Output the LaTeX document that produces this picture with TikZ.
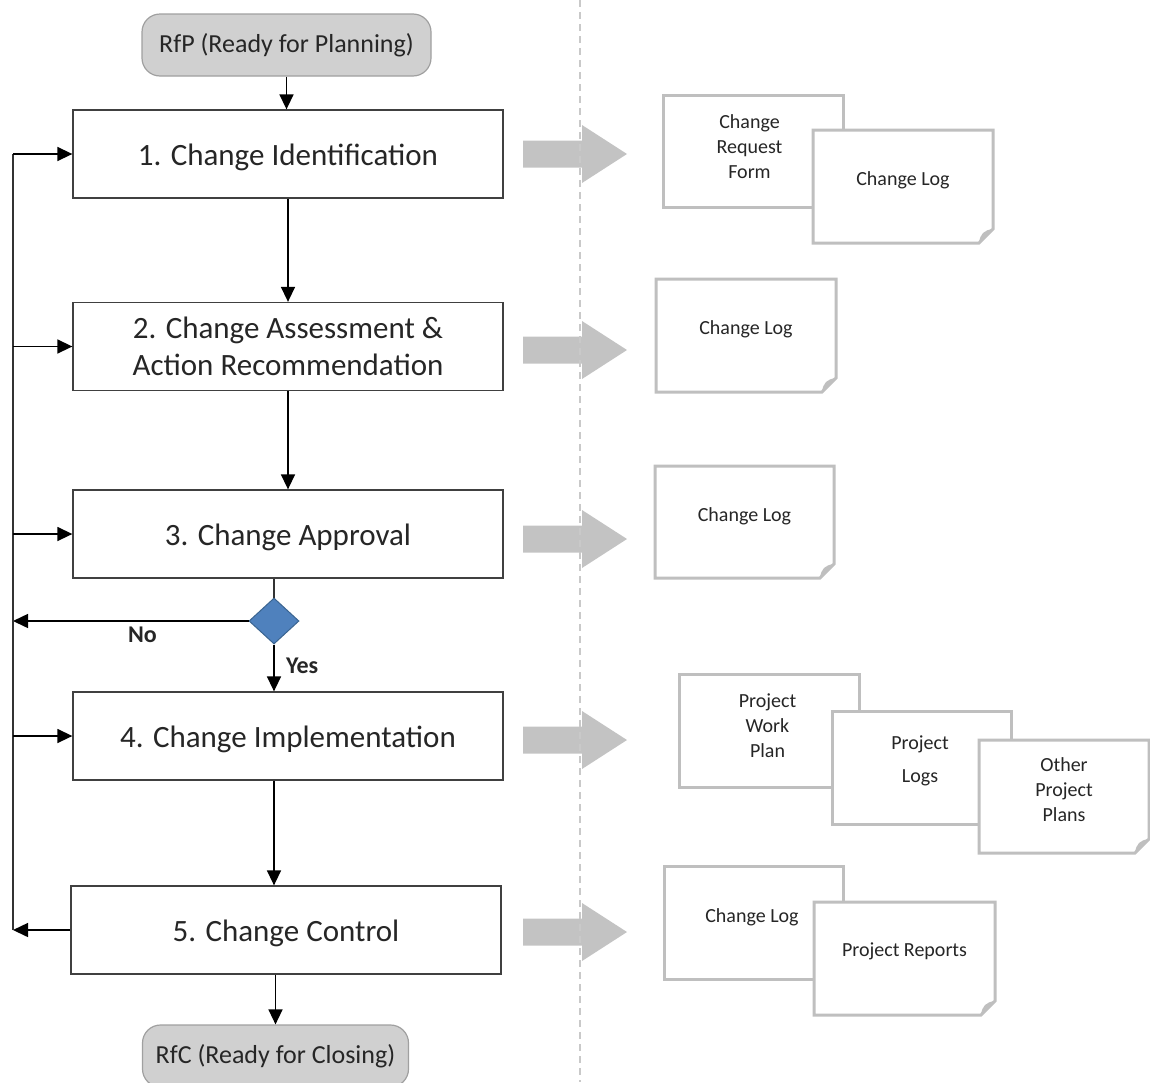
\documentclass[tikz,border=0pt]{standalone}
\usepackage{fontspec}
\setmainfont{Carlito}
\usetikzlibrary{arrows.meta,shapes.geometric,calc}
\definecolor{docgray}{HTML}{BFBFBF}
\definecolor{bigarrow}{HTML}{C3C3C3}
\definecolor{termfill}{HTML}{D0D0D0}
\definecolor{termdraw}{HTML}{A0A0A0}
\definecolor{decfill}{HTML}{4F81BD}
\definecolor{decdraw}{HTML}{3A6490}
\definecolor{txt}{HTML}{262626}
\newcommand{\bigarrowat}[1]{%
  \fill[bigarrow] (523,#1-13.5) -- (582,#1-13.5) -- (582,#1-29) -- (627,#1)
    -- (582,#1+29) -- (582,#1+13.5) -- (523,#1+13.5) -- cycle;}
\newcommand{\folddoc}[1]{%
  \path[draw=docgray, line width=3pt, fill=white, line join=miter]
    (#1.north west) -- (#1.north east) -- ($(#1.south east)+(0,-14)$)
    -- ($(#1.south east)+(-14,0)$) -- (#1.south west) -- cycle;
  \fill[docgray] ($(#1.south east)+(0,-14)$)
    .. controls ($(#1.south east)+(-9,-13)$) and ($(#1.south east)+(-13,-9)$)
    .. ($(#1.south east)+(-14,0)$) -- cycle;}
\begin{document}
\begin{tikzpicture}[x=1pt,y=-1pt,
  proc/.style={rectangle, draw=black!75, line width=1.3pt, fill=white,
    minimum width=430pt, minimum height=88pt, align=center, text=txt,
    font=\fontsize{31}{37.5}\selectfont},
  oneline/.style={text height=29pt, text depth=7pt},
  term/.style={rectangle, rounded corners=18pt, draw=termdraw, line width=1.2pt,
    fill=termfill, minimum width=289pt, minimum height=62pt, text=txt,
    font=\fontsize{26}{30}\selectfont},
  dec/.style={diamond, draw=decdraw, line width=1pt, fill=decfill,
    minimum width=50pt, minimum height=46pt, inner sep=0pt},
  conn/.style={draw=black, line width=1.5pt, -{Triangle[length=15pt,width=14pt]}},
  plain/.style={draw=black!80, line width=1.5pt},
  doc/.style={rectangle, draw=docgray, line width=3pt, fill=white,
    minimum width=179pt, minimum height=112pt, anchor=north west, inner sep=0pt},
  fdoc/.style={rectangle, minimum width=179pt, minimum height=112pt,
    anchor=north west, inner sep=0pt, outer sep=0pt},
  doctext/.style={font=\fontsize{20}{25}\selectfont, align=center, text=txt, yshift=6pt},
  yn/.style={font=\bfseries\fontsize{24}{28}\selectfont, text=txt},
  sep/.style={draw=docgray!85, line width=1.5pt, dash pattern=on 7pt off 5pt}
]
\useasboundingbox (0,0) rectangle (1150,1082);

% big gray arrows
\bigarrowat{154}
\bigarrowat{350}
\bigarrowat{539}
\bigarrowat{740}
\bigarrowat{932}

% separator
\draw[sep] (580,0) -- (580,1082);

% terminals and process boxes
\node[term] (t1) at (286.5,45) {RfP (Ready for Planning)};
\node[proc, oneline] (p1) at (288,154) {1. Change Identification};
\node[proc] (p2) at (288,346.5) {2. Change Assessment \&\\Action Recommendation};
\node[proc, oneline] (p3) at (288,534) {3. Change Approval};
\node[dec]  (d)  at (274,621) {};
\node[proc, oneline] (p4) at (288,736) {4. Change Implementation};
\node[proc, oneline] (p5) at (286,930) {5. Change Control};
\node[term, minimum width=266pt] (t2) at (275.5,1056) {RfC (Ready for Closing)};

\coordinate (lb) at (13,930);
\coordinate (lt) at (13,154);

% main flow
\draw[conn] (t1.south) -- (t1.south |- p1.north);
\draw[conn] (p1.south) -- (p2.north);
\draw[conn] (p2.south) -- (p3.north);
\draw[plain] (d.north |- p3.south) -- (d.north);
\draw[conn] (d.south) -- (d.south |- p4.north) node[yn, pos=0.45, right=8pt] (yes) {Yes};
\draw[conn] (d.west) -- (d.west -| lb) node[yn, pos=0.45, below=2pt] (no) {No};
\draw[conn] (d |- p4.south) -- (d |- p5.north);
\draw[conn] (t2.north |- p5.south) -- (t2.north);

% feedback loop
\draw[conn] (p5.west) -- (lb);
\draw[plain] (lb) -- (lt);
\draw[conn] (lt) -- (p1.west);
\draw[conn] (lt |- p2.west) -- (p2.west);
\draw[conn] (lt |- p3.west) -- (p3.west);
\draw[conn] (lt |- p4.west) -- (p4.west);

% documents
\node[doc, minimum width=180pt] (c1a) at (662,94) {};
\node[doctext] (c1at) at ($(c1a.center)+(-4,1)$) {Change\\Request\\Form};
\node[fdoc, minimum width=180pt, minimum height=113pt] (c1b) at (813,130) {};
\folddoc{c1b}
\node[doctext] (c1bt) at (c1b.center) {Change Log};

\node[fdoc, minimum width=180pt, minimum height=113pt] (c2) at (656,279) {};
\folddoc{c2}
\node[doctext] (c2t) at (c2.center) {Change Log};

\node[fdoc] (c3) at (655,466) {};
\folddoc{c3}
\node[doctext] (c3t) at (c3.center) {Change Log};

\node[doc, minimum width=180pt, minimum height=113pt] (c4a) at (678,673) {};
\node[doctext] (c4at) at ($(c4a.center)+(-2,1)$) {Project\\Work\\Plan};
\node[doc, minimum height=113pt] (c4b) at (831,710) {};
\node[doctext] (c4bt) at ($(c4b.center)+(-2,-1)$) {Project\\[8pt]Logs};
\node[fdoc, minimum width=170pt, minimum height=113pt] (c4c) at (979,740) {};
\folddoc{c4c}
\node[doctext] (c4ct) at ($(c4c.center)+(0,-1)$) {Other\\Project\\Plans};

\node[doc, minimum height=113pt] (c5a) at (663,865) {};
\node[doctext] (c5at) at ($(c5a.center)+(-2,0)$) {Change Log};
\node[fdoc, minimum width=181pt, minimum height=113pt] (c5b) at (814,902) {};
\folddoc{c5b}
\node[doctext] (c5bt) at ($(c5b.center)+(0,-1)$) {Project Reports};
\end{tikzpicture}
\end{document}
